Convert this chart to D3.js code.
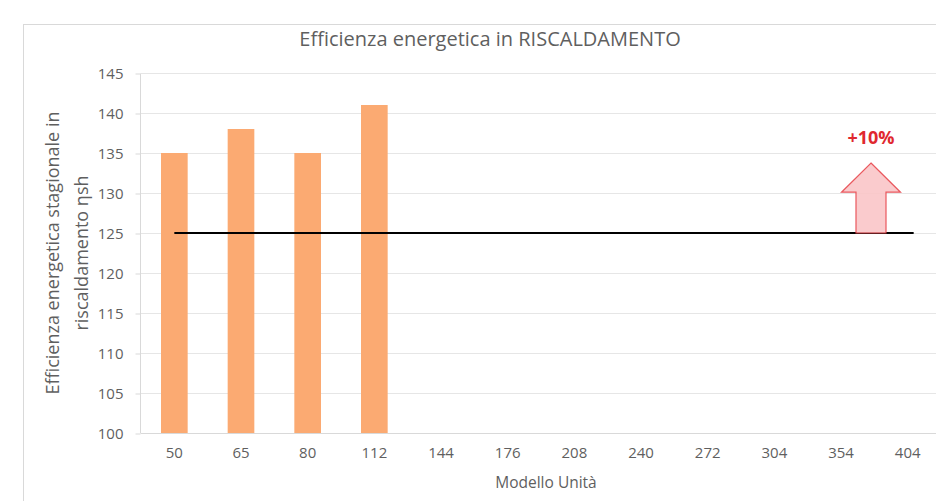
<!DOCTYPE html>
<html><head><meta charset="utf-8">
<script src="https://cdn.jsdelivr.net/npm/d3@7"></script>
<style>body{margin:0;background:#fff;}svg{display:block;font-family:"Open Sans",sans-serif;}</style>
</head><body><svg id="c" width="936" height="501"></svg>
<script>
const categories = ["50","65","80","112","144","176","208","240","272","304","354","404"];
const values = [135,138,135,141,null,null,null,null,null,null,null,null];
const threshold = 125;
const yTicks = [100,105,110,115,120,125,130,135,140,145];
const title = "Efficienza energetica in RISCALDAMENTO";
const yTitle = ["Efficienza energetica stagionale in","riscaldamento ηsh"];
const xTitle = "Modello Unità";
const note = "+10%";

const svg = d3.select("#c");
const gray = "#5f5f5f";
svg.append("rect").attr("x",23.5).attr("y",24.5).attr("width",940).attr("height",500)
  .attr("fill","#fff").attr("stroke","#d9d9d9");

const x = d3.scaleBand().domain(categories).range([141,941]).paddingInner(0.6).paddingOuter(0.3);
const y = d3.scaleLinear().domain([100,145]).range([433,73]);

// gridlines
svg.append("g").selectAll("line").data(yTicks).join("line")
  .attr("x1",141).attr("x2",941).attr("y1",d=>Math.round(y(d))+0.5).attr("y2",d=>Math.round(y(d))+0.5)
  .attr("stroke","#e6e6e6").attr("stroke-width",1);

// y axis
const ya = svg.append("g").attr("transform","translate(140.5,0.5)")
  .call(d3.axisLeft(y).tickValues(yTicks).tickSize(5).tickPadding(12));
ya.select(".domain").attr("stroke","#d9d9d9").attr("d",`M0,${y(145)}V${y(100)}`);
ya.selectAll(".tick line").attr("stroke","#d9d9d9");
ya.selectAll("text").attr("fill",gray).style("font-size","15px").style("font-family","Open Sans");

// x axis labels
const xa = svg.append("g").attr("transform","translate(0,433)")
  .call(d3.axisBottom(x).tickSize(0).tickPadding(14));
xa.select(".domain").remove();
xa.selectAll("text").attr("fill",gray).style("font-size","15px").style("font-family","Open Sans");

// baseline
svg.append("line").attr("x1",141).attr("x2",941).attr("y1",y(100)+0.5).attr("y2",y(100)+0.5)
  .attr("stroke","#d9d9d9");

// bars
svg.append("g").selectAll("rect").data(categories.map((c,i)=>({c,v:values[i]})).filter(d=>d.v!=null))
  .join("rect").attr("x",d=>x(d.c)).attr("width",x.bandwidth())
  .attr("y",d=>y(d.v)).attr("height",d=>y(100)-y(d.v)).attr("fill","#FBAA72");

// threshold line
const xc = c => x(c)+x.bandwidth()/2;
svg.append("line").attr("x1",xc(categories[0])).attr("x2",xc(categories[categories.length-1])+6)
  .attr("y1",y(threshold)).attr("y2",y(threshold)).attr("stroke","#000").attr("stroke-width",2);

// arrow
const ax = xc("354")+30;
const tip = y(133.75), headBase = y(130.1), base = y(threshold);
const hw = 29.5, sw = 15;
svg.append("path").attr("d",`M${ax},${tip} L${ax+hw},${headBase} L${ax+sw},${headBase} L${ax+sw},${base} L${ax-sw},${base} L${ax-sw},${headBase} L${ax-hw},${headBase} Z`)
  .attr("fill","#FAC6C8").attr("stroke","#E8474D").attr("stroke-width",1.2).attr("opacity",0.9);
svg.append("text").attr("x",ax).attr("y",y(136.15)).attr("text-anchor","middle")
  .attr("fill","#E0282F").style("font-weight","bold").style("font-size","18px").text(note);

// titles
svg.append("text").attr("x",490).attr("y",46).attr("text-anchor","middle").attr("fill",gray)
  .style("font-size","20px").text(title);
svg.append("text").attr("x",546).attr("y",488).attr("text-anchor","middle").attr("fill",gray)
  .style("font-size","15.5px").text(xTitle);
const yt = svg.append("text").attr("transform","translate(0,253) rotate(-90)").attr("text-anchor","middle")
  .attr("fill",gray).style("font-size","18px");
yTitle.forEach((t,i)=>yt.append("tspan").attr("x",0).attr("y",59+i*29).text(t));
</script></body></html>
